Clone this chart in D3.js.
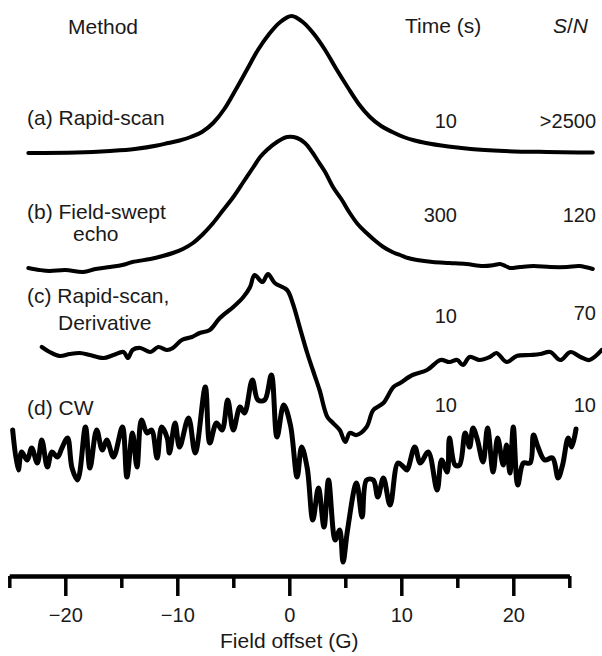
<!DOCTYPE html>
<html>
<head>
<meta charset="utf-8">
<script src="https://cdn.jsdelivr.net/npm/d3@7"></script>
<style>
  html, body { margin: 0; padding: 0; background: #fff; }
  svg { display: block; }
  text { font-family: "Liberation Sans", Arial, Helvetica, sans-serif; fill: #1a1a1a; }
</style>
</head>
<body>
<svg id="chart" width="602" height="656"></svg>
<script>
// Field offset (G) and signal (a.u., relative to each trace's own baseline)
const rapidScan = [
  [-23.3, 0], [-19.0, 0.05], [-16.0, 0.2], [-13.8, 0.4], [-11.8, 0.75], [-10.8, 1.0],
  [-9.8, 1.25], [-8.8, 1.6], [-7.8, 2.1], [-6.8, 3.0], [-5.8, 4.4], [-4.8, 6.3],
  [-3.8, 8.3], [-2.8, 10.3], [-1.8, 11.9], [-0.8, 13.1], [0.2, 13.7], [1.2, 13.1],
  [2.2, 11.9], [3.2, 10.3], [4.2, 8.4], [5.2, 6.6], [6.2, 4.9], [7.2, 3.6],
  [8.2, 2.7], [9.2, 2.1], [10.2, 1.6], [11.2, 1.25], [12.2, 1.0], [14.2, 0.65],
  [16.2, 0.4], [19.2, 0.2], [23.0, 0.1], [27.1, 0.05]
];

const fieldSweptEcho = [
  [-23.3, 0], [-22.3, -0.2], [-21.4, -0.3], [-20.0, -0.2], [-18.4, -0.4], [-17.3, -0.1],
  [-16.0, 0.1], [-14.9, 0.3], [-14.0, 0.6], [-12.4, 0.9], [-11.3, 1.2], [-10.4, 1.5],
  [-9.5, 1.9], [-8.6, 2.5], [-7.7, 3.4], [-6.8, 4.5], [-5.9, 5.8], [-5.0, 7.1],
  [-4.1, 8.6], [-3.2, 10.1], [-2.6, 11.1], [-2.0, 11.8], [-1.1, 12.6], [-0.2, 13.1],
  [0.7, 13.0], [1.4, 12.5], [2.1, 11.5], [2.5, 10.8], [3.2, 9.6], [3.9, 8.1],
  [4.7, 6.8], [5.4, 5.5], [6.1, 4.4], [6.9, 3.5], [7.7, 2.7], [8.4, 2.1],
  [9.2, 1.6], [9.9, 1.3], [10.6, 1.0], [11.4, 0.8], [12.8, 0.6], [14.3, 0.5],
  [15.8, 0.4], [17.3, 0.2], [18.3, 0.3], [18.8, 0.4], [19.3, 0.2], [19.7, 0],
  [20.6, 0.1], [21.8, 0.2], [23.3, 0.1], [24.8, 0.1], [25.9, 0.2], [27.1, -0.1]
];

const rapidScanDerivative = [
  [-22.1, 0.8], [-21.4, 0.3], [-20.5, -0.1], [-19.6, 0.1], [-18.7, 0.2], [-17.8, 0],
  [-16.6, -0.3], [-15.7, 0], [-14.8, 0.3], [-14.4, -0.3], [-14.0, 0.5], [-13.3, 0.7],
  [-12.4, 0.3], [-11.7, 0.8], [-10.9, 0.5], [-10.4, 0.7], [-9.6, 1.5], [-8.7, 1.8],
  [-8.0, 2.2], [-7.1, 2.5], [-6.2, 3.7], [-5.0, 4.8], [-4.1, 5.8], [-3.5, 6.8],
  [-3.1, 8.0], [-2.4, 7.3], [-1.9, 8.1], [-1.3, 7.2], [-0.2, 6.5], [0.3, 5.2],
  [1.0, 2.5], [1.6, 0.2], [2.1, -1.5], [2.7, -3.5], [3.4, -6.2], [3.9, -6.8],
  [4.5, -7.5], [5.0, -8.7], [5.4, -7.8], [6.0, -8.0], [6.9, -7.2], [7.5, -5.5],
  [8.4, -4.8], [9.3, -3.2], [9.9, -2.8], [11.0, -2.0], [12.3, -1.5], [13.5, -0.5],
  [14.3, -0.7], [15.0, -0.5], [15.5, -1.0], [16.1, -0.2], [17.0, -0.5], [17.9, -0.2],
  [18.5, 0.2], [19.4, -0.7], [20.3, -0.1], [21.5, 0], [22.4, 0.1], [23.3, 0.3],
  [24.2, -0.5], [25.1, 0.3], [26.0, -0.2], [26.8, -0.5], [27.9, 0.5]
];

const continuousWave = [
  [-24.7, 3.0], [-24.2, -1.0], [-23.9, 0.8], [-23.4, 0], [-23.0, 1.2], [-22.5, -0.3],
  [-22.1, 2.0], [-21.6, -0.7], [-21.2, 0.8], [-20.7, 0.3], [-20.3, 1.2], [-19.8, 2.2],
  [-19.4, -0.8], [-18.9, -2.0], [-18.2, 3.3], [-17.8, -0.8], [-17.2, 3.0], [-16.7, 1.0],
  [-16.3, 2.0], [-15.7, 0.3], [-14.9, 3.3], [-14.5, -1.7], [-14.0, 2.7], [-13.6, -0.7],
  [-13.2, 4.0], [-12.7, 2.7], [-12.3, 3.0], [-11.8, 0.2], [-11.4, 3.3], [-10.9, 2.2],
  [-10.7, 0.7], [-10.2, 3.7], [-9.8, 1.3], [-9.0, 4.2], [-8.4, 0.7], [-7.5, 7.3],
  [-7.1, 1.7], [-6.5, 3.7], [-6.0, 3.0], [-5.5, 6.0], [-5.0, 3.0], [-4.4, 5.3],
  [-4.0, 4.7], [-3.3, 8.0], [-2.8, 6.0], [-2.2, 6.0], [-1.6, 8.5], [-1.1, 2.3],
  [-0.5, 5.5], [0.1, 3.5], [0.7, -1.7], [1.1, 1.3], [1.6, -0.8], [2.1, -6.0],
  [2.6, -2.8], [3.1, -6.7], [3.5, -2.0], [4.1, -8.0], [4.5, -7.0], [4.8, -10.2],
  [5.2, -7.0], [6.0, -2.3], [6.5, -5.7], [6.9, -2.0], [7.5, -2.0], [7.9, -3.7],
  [8.4, -1.8], [9.0, -4.5], [9.7, -0.3], [10.2, -0.7], [10.5, -1.0], [11.2, 1.3],
  [11.7, -0.3], [12.4, 0.8], [13.2, -3.0], [13.6, 0], [14.1, -1.2], [14.3, 2.2],
  [14.8, -0.5], [15.2, -0.5], [15.7, 2.7], [16.1, 1.3], [16.4, 3.2], [16.8, 2.0],
  [17.3, -0.2], [17.7, 3.2], [18.2, -1.2], [18.6, 2.2], [19.1, -0.5], [19.4, 1.5],
  [19.7, -1.3], [20.0, 3.3], [20.4, -2.5], [20.9, -0.3], [21.5, -0.3], [21.8, 2.5],
  [22.2, 1.3], [22.8, 0], [23.5, 0.2], [24.0, -1.8], [24.4, -0.5], [24.9, 2.2],
  [25.2, 1.3], [25.6, 3.1]
];

// Vertical stacking offset of each trace (a.u.)
const traceOffsets = [42.3, 30.8, 22.1, 11.6];

// Row labels and table columns
const methodLabels = [["(a) Rapid-scan"], ["(b) Field-swept", "echo"], ["(c) Rapid-scan,", "Derivative"], ["(d) CW"]];
const timeValues = ["10", "300", "10", "10"];
const snValues = [">2500", "120", "70", "10"];

const majorTicks = [-20, -10, 0, 10, 20];
const minorTicks = [-25, -15, -5, 5, 15, 25];

const svg = d3.select("#chart");

const x = d3.scaleLinear().domain([-25, 25]).range([9.3, 569.3]);
const y = d3.scaleLinear().domain([0, 56]).range([576, 16]);

const traces = [
  { data: rapidScan, curve: d3.curveMonotoneX, width: 4 },
  { data: fieldSweptEcho, curve: d3.curveCatmullRom, width: 4 },
  { data: rapidScanDerivative, curve: d3.curveCatmullRom, width: 4.2 },
  { data: continuousWave, curve: d3.curveCatmullRom.alpha(0.5), width: 5 }
];

traces.forEach((t, i) => {
  const line = d3.line()
    .x(d => x(d[0]))
    .y(d => y(d[1] + traceOffsets[i]))
    .curve(t.curve);
  svg.append("path")
    .datum(t.data)
    .attr("d", line)
    .attr("fill", "none")
    .attr("stroke", "#000")
    .attr("stroke-width", t.width)
    .attr("stroke-linejoin", "round")
    .attr("stroke-linecap", "round");
});

// Field axis: long labelled ticks every 10 G, short ticks in between
const axisY = y(0);
const gMinor = svg.append("g").attr("transform", `translate(0,${axisY})`)
  .call(d3.axisBottom(x).tickValues(minorTicks).tickSize(12).tickSizeOuter(0).tickFormat(""));
const gMajor = svg.append("g").attr("transform", `translate(0,${axisY})`)
  .call(d3.axisBottom(x).tickValues(majorTicks).tickSize(20).tickSizeOuter(0).tickPadding(12)
    .tickFormat(d => d < 0 ? "\u2212" + Math.abs(d) : String(d)));

[gMinor, gMajor].forEach(g => {
  g.select(".domain").attr("stroke", "#000").attr("stroke-width", 4);
  g.selectAll(".tick line").attr("stroke", "#000").attr("stroke-width", 3.5);
  g.selectAll(".tick text")
    .attr("fill", "#1a1a1a")
    .style("font-family", "'Liberation Sans', Arial, sans-serif")
    .style("font-size", "20px");
});

svg.append("text")
  .attr("x", x(0))
  .attr("y", 648)
  .attr("text-anchor", "middle")
  .style("font-size", "21px")
  .text("Field offset (G)");

// Column headers
svg.append("text").attr("x", 68).attr("y", 34).style("font-size", "21px").text("Method");
svg.append("text").attr("x", 405).attr("y", 33).style("font-size", "21px").text("Time (s)");
const sn = svg.append("text").attr("x", 553).attr("y", 33).style("font-size", "21px");
sn.append("tspan").style("font-style", "italic").text("S");
sn.append("tspan").text("/");
sn.append("tspan").style("font-style", "italic").text("N");

// Row labels and values
const labelRows = [
  { y: [125], x: [27] },
  { y: [219, 241], x: [27, 73] },
  { y: [303, 330], x: [27, 58] },
  { y: [415], x: [27] }
];
const valueBaselines = [
  { t: 128, s: 128 },
  { t: 222, s: 222 },
  { t: 323, s: 320 },
  { t: 412, s: 412 }
];

methodLabels.forEach((lines, i) => {
  lines.forEach((txt, j) => {
    svg.append("text")
      .attr("x", labelRows[i].x[j])
      .attr("y", labelRows[i].y[j])
      .style("font-size", "21px")
      .text(txt);
  });
  svg.append("text")
    .attr("x", 457)
    .attr("y", valueBaselines[i].t)
    .attr("text-anchor", "end")
    .style("font-size", "20px")
    .text(timeValues[i]);
  svg.append("text")
    .attr("x", 596)
    .attr("y", valueBaselines[i].s)
    .attr("text-anchor", "end")
    .style("font-size", "20px")
    .text(snValues[i]);
});
</script>
</body>
</html>
